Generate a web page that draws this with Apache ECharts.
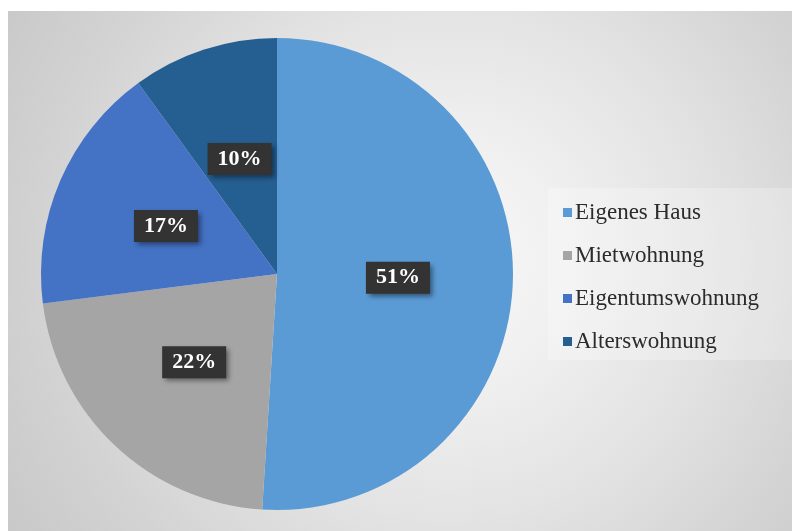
<!DOCTYPE html>
<html>
<head>
<meta charset="utf-8">
<script src="https://cdn.jsdelivr.net/npm/echarts@6/dist/echarts.min.js"></script>
<style>
  html, body { margin: 0; padding: 0; background: #ffffff; }
  #chart {
    position: absolute;
    left: 8px; top: 11px;
    width: 784px; height: 520px;
    background: radial-gradient(circle at 440px 250px,
      #f8f8f8 0px, #f0f0f0 120px, #e3e3e3 260px, #d3d3d3 400px, #c8c8c8 520px);
  }
</style>
</head>
<body>
<div id="chart"></div>
<script>
// Wohnform – Anteile in Prozent
const categories = ['Eigenes Haus', 'Mietwohnung', 'Eigentumswohnung', 'Alterswohnung'];
const shares = [51, 22, 17, 10];
const colors = ['#5B9BD5', '#A5A5A5', '#4472C4', '#255E91'];

const chart = echarts.init(document.getElementById('chart'));

chart.setOption({
  animation: false,
  color: colors,
  graphic: [{
    type: 'rect',
    shape: { x: 540, y: 177, width: 244, height: 172 },
    style: { fill: 'rgba(255,255,255,0.25)' },
    z: 0
  }],
  legend: {
    orient: 'vertical',
    left: 555,
    top: 190,
    padding: 0,
    itemWidth: 9,
    itemHeight: 9,
    itemGap: 20,
    icon: 'rect',
    selectedMode: false,
    textStyle: {
      fontFamily: 'Liberation Serif',
      fontSize: 23,
      lineHeight: 22,
      color: '#2b2b2b',
      padding: [0, 0, 0, -2]
    },
    data: categories
  },
  series: [{
    type: 'pie',
    center: [269, 263],
    radius: [0, 236],
    startAngle: 90,
    clockwise: true,
    silent: true,
    itemStyle: { borderWidth: 0 },
    label: {
      show: true,
      position: 'inside',
      formatter: '{c}%',
      fontFamily: 'Liberation Serif',
      fontWeight: 'bold',
      fontSize: 22,
      lineHeight: 22,
      color: '#ffffff',
      backgroundColor: '#333333',
      padding: [5, 10],
      shadowColor: 'rgba(0,0,0,0.45)',
      shadowBlur: 5,
      shadowOffsetX: 3,
      shadowOffsetY: 3
    },
    labelLine: { show: false },
    emphasis: { disabled: true },
    data: categories.map((name, i) => ({ name: name, value: shares[i] }))
  }]
});
</script>
</body>
</html>
